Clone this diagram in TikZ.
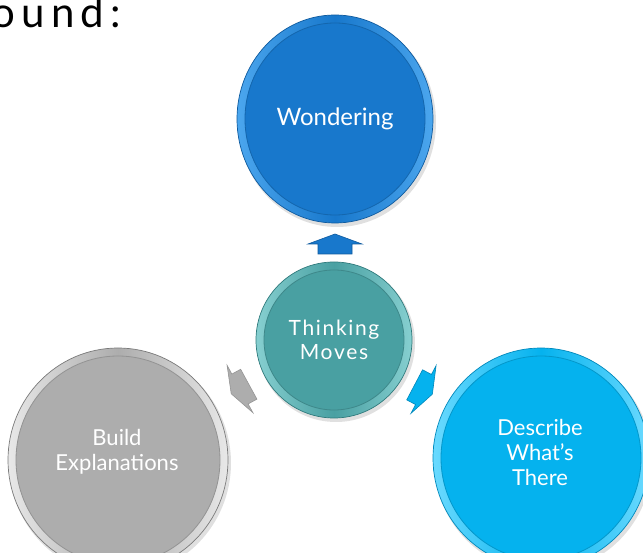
\documentclass[tikz,border=0pt]{standalone}
\usepackage{fontspec}
\setmainfont{Lato}
\definecolor{wbase}{HTML}{1878CC}\definecolor{wlight}{HTML}{4BA6EE}\definecolor{wdark}{HTML}{0E5A9E}
\definecolor{tbase}{HTML}{49A0A2}\definecolor{tlight}{HTML}{86CFD0}\definecolor{tdark}{HTML}{2F7A7C}
\definecolor{gbase}{HTML}{ADADAD}\definecolor{glight}{HTML}{E8E8E8}\definecolor{gdark}{HTML}{7A7A7A}
\definecolor{cbase}{HTML}{05B2EE}\definecolor{clight}{HTML}{6ADAFF}\definecolor{cdark}{HTML}{0088BB}
\tikzset{
  lbl/.style={text=white,align=center,font=\fontsize{22}{25}\selectfont},
  arrowshape/.style={line width=0.6pt,line join=miter},
}
\newcommand{\bevel}[5]{% center x, y, rx, ry, colour prefix
  \fill[black,opacity=0.12] (#1+2,#2+3) ellipse [x radius=#3pt+1pt, y radius=#4pt+1pt];
  \shade[left color=#5light,right color=#5light,middle color=#5base,draw=#5dark,line width=0.7pt]
     (#1,#2) ellipse [x radius=#3pt, y radius=#4pt];
  \fill[#5base,draw=#5base!85!black,line width=0.8pt] (#1,#2) ellipse [x radius=#3pt-8pt, y radius=#4pt-8pt];
}
\newcommand{\arrowpath}{(10,0) -- (0,27) -- (0,17) -- (-10,17) -- (-10,-17) -- (0,-17) -- (0,-27) -- cycle}
\begin{document}
\begin{tikzpicture}[x=1pt,y=-1pt]
\useasboundingbox (0,0) rectangle (643,553);
\clip (0,0) rectangle (643,553);
\fill[white] (0,0) rectangle (643,553);
% cut-off heading
\node[anchor=base west,inner sep=0pt,font=\fontsize{42}{42}\selectfont\addfontfeature{LetterSpace=15}] (head) at (-9,28) {ound:};
% circles
\bevel{335}{119}{98}{104}{w}
\bevel{334}{340}{78}{78}{t}
\bevel{118}{460}{110}{112}{g}
\bevel{541}{458}{108}{110}{c}
% labels
\node[lbl,font=\fontsize{24}{28}\selectfont] (w) at (335,119) {Wondering};
\node[lbl,font=\fontsize{21}{24}\selectfont\addfontfeature{LetterSpace=8}] (t) at (334,340) {Thinking\\Moves};
\node[lbl] (b) at (117,452) {Build\\Explanations};
\node[lbl] (d) at (540,452) {Describe\\What’s\\There};
% arrows
\begin{scope}[shift={(335,244)},rotate=90]
  \filldraw[arrowshape,fill=wbase,draw=wdark] \arrowpath;
\end{scope}
\begin{scope}[shift={(240,389)},rotate=208.6]
  \filldraw[arrowshape,fill=gbase,draw=gdark!80] \arrowpath;
\end{scope}
\begin{scope}[shift={(423.5,389.5)},rotate=-27.8]
  \filldraw[arrowshape,fill=cbase,draw=cdark] \arrowpath;
\end{scope}
\end{tikzpicture}
\end{document}
